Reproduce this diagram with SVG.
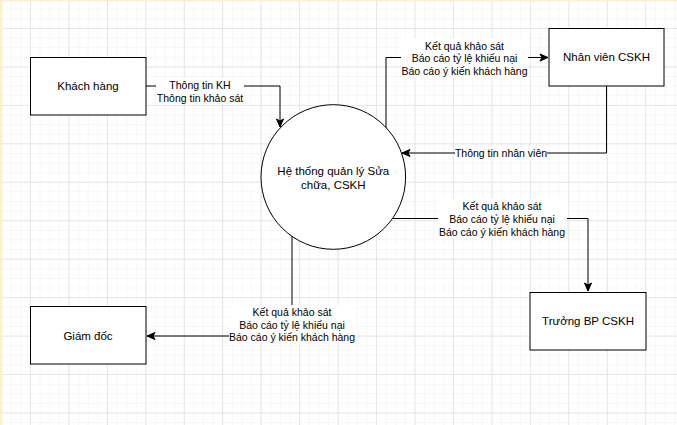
<svg xmlns="http://www.w3.org/2000/svg" width="677" height="425" viewBox="0 0 677 425">
  <style>
    .node { fill: #ffffff; stroke: #000000; stroke-width: 1; }
    .edge { fill: none; stroke: #000000; stroke-width: 1; }
    .ntext { font-family: "Liberation Sans", Arial, Helvetica, sans-serif; font-size: 11.5px; fill: #000000; text-anchor: middle; dominant-baseline: central; }
    .ltext { font-family: "Liberation Sans", Arial, Helvetica, sans-serif; font-size: 10.5px; fill: #000000; text-anchor: middle; dominant-baseline: central; }
    .lbg { fill: #ffffff; stroke: none; }
  </style>
  <defs>
    <pattern id="minor" patternUnits="userSpaceOnUse" x="30" y="28" width="9.6125" height="9.6125">
      <path d="M0,0.5 H9.6125 M0.5,0 V9.6125" fill="none" stroke="#f6f6f6" stroke-width="1"/>
    </pattern>
    <pattern id="grid" patternUnits="userSpaceOnUse" x="30" y="28" width="38.45" height="38.45">
      <path d="M0,0.5 H38.45 M0.5,0 V38.45" fill="none" stroke="#e6e6e6" stroke-width="1"/>
    </pattern>
    <marker id="arrow" markerUnits="userSpaceOnUse" markerWidth="10" markerHeight="10" viewBox="0 0 10 10" refX="9" refY="5" orient="auto">
      <path d="M1,1.5 L9,5 L1,8.5 L3,5 Z" fill="#000000" stroke="#000000" stroke-width="1"/>
    </marker>
  </defs>

  <rect x="0" y="0" width="677" height="425" fill="#ffffff"/>
  <rect x="0" y="0" width="677" height="425" fill="url(#minor)"/>
  <rect x="0" y="0" width="677" height="425" fill="url(#grid)"/>
  <rect x="0" y="0" width="677" height="1.5" fill="#fbf1cf"/>
  <rect x="0" y="0" width="2.5" height="425" fill="#fbf1cf"/>

  <g id="connectors">
    <!-- Khach hang -> He thong -->
    <path class="edge" d="M146,86 H280 V127" marker-end="url(#arrow)"/>
    <rect class="lbg" x="156" y="78" width="88" height="26"/>
    <text class="ltext" x="200" y="85">Thông tin KH</text>
    <text class="ltext" x="200" y="97.5">Thông tin khảo sát</text>

    <!-- He thong -> Nhan vien CSKH -->
    <path class="edge" d="M386,128 V57.5 H548" marker-end="url(#arrow)"/>
    <rect class="lbg" x="401" y="38" width="127" height="40"/>
    <text class="ltext" x="464.5" y="45.5">Kết quả khảo sát</text>
    <text class="ltext" x="464.5" y="58">Báo cáo tỷ lệ khiếu nại</text>
    <text class="ltext" x="464.5" y="71">Báo cáo ý kiến khách hàng</text>

    <!-- Nhan vien CSKH -> He thong -->
    <path class="edge" d="M606.5,86 V153 H402" marker-end="url(#arrow)"/>
    <rect class="lbg" x="455" y="146" width="92" height="14"/>
    <text class="ltext" x="501" y="153">Thông tin nhân viên</text>

    <!-- He thong -> Truong BP CSKH -->
    <path class="edge" d="M392,218.5 H588 V291" marker-end="url(#arrow)"/>
    <rect class="lbg" x="438" y="199" width="129" height="40"/>
    <text class="ltext" x="502" y="206">Kết quả khảo sát</text>
    <text class="ltext" x="502" y="219">Báo cáo tỷ lệ khiếu nại</text>
    <text class="ltext" x="502" y="232">Báo cáo ý kiến khách hàng</text>

    <!-- He thong -> Giam doc -->
    <path class="edge" d="M292,236 V336 H147" marker-end="url(#arrow)"/>
    <rect class="lbg" x="229" y="305" width="126" height="38"/>
    <text class="ltext" x="292" y="311.5">Kết quả khảo sát</text>
    <text class="ltext" x="292" y="324.5">Báo cáo tỷ lệ khiếu nại</text>
    <text class="ltext" x="292" y="337">Báo cáo ý kiến khách hàng</text>
  </g>

  <g id="node-khach-hang">
    <rect class="node" x="30.5" y="57.5" width="115.5" height="57.5"/>
    <text class="ntext" x="88" y="86">Khách hàng</text>
  </g>

  <g id="node-he-thong">
    <circle class="node" cx="333.3" cy="177" r="72.3" stroke="#333333"/>
    <text class="ntext" x="333.3" y="171">Hệ thống quản lý Sửa</text>
    <text class="ntext" x="333.3" y="185">chữa, CSKH</text>
  </g>

  <g id="node-nhan-vien-cskh">
    <rect class="node" x="549" y="28.5" width="115" height="57.5"/>
    <text class="ntext" x="606.5" y="57">Nhân viên CSKH</text>
  </g>

  <g id="node-truong-bp-cskh">
    <rect class="node" x="530" y="292.5" width="116" height="57.5"/>
    <text class="ntext" x="588" y="321">Trưởng BP CSKH</text>
  </g>

  <g id="node-giam-doc">
    <rect class="node" x="30.5" y="306.5" width="115.5" height="57.5"/>
    <text class="ntext" x="88" y="335.5">Giám đốc</text>
  </g>
</svg>
